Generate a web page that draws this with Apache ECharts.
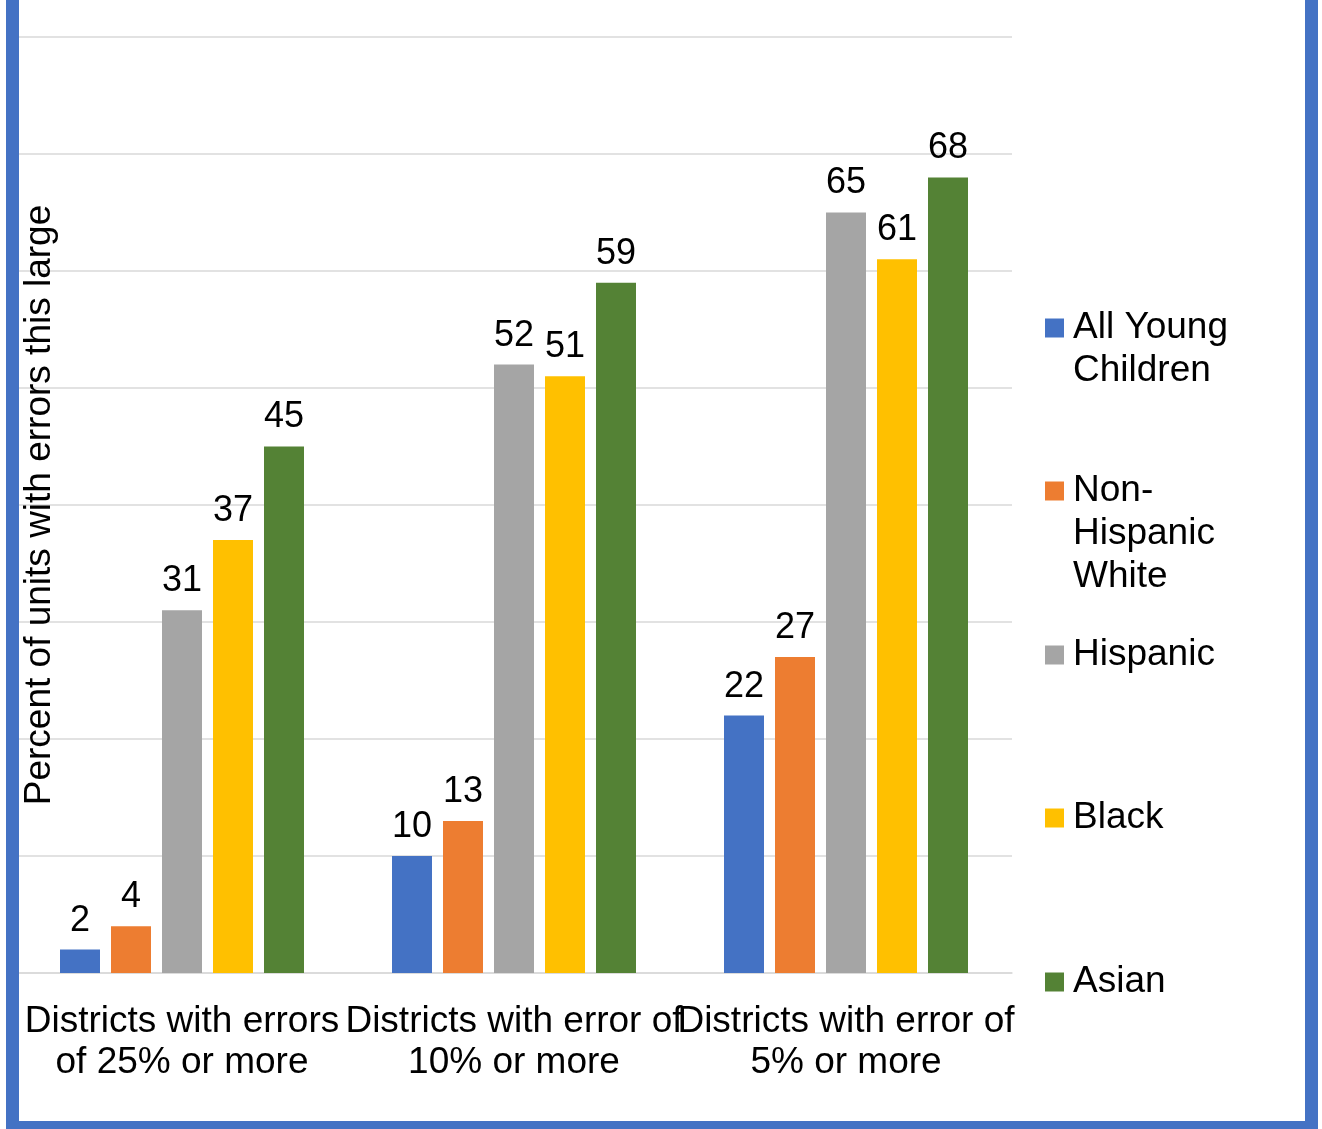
<!DOCTYPE html>
<html>
<head>
<meta charset="utf-8">
<title>Percent of units with errors this large</title>
<script src="https://cdn.jsdelivr.net/npm/echarts@6/dist/echarts.min.js"></script>
<style>
  html, body { margin: 0; padding: 0; background: #fff; }
  #chart { width: 1322px; height: 1129px; }
</style>
</head>
<body>
<div id="chart"></div>
<script>
// Error-size buckets shown along the x axis
const categories = [
  'Districts with errors\nof 25% or more',
  'Districts with error of\n10% or more',
  'Districts with error of\n5% or more'
];

// Group names and the wrapped text used for them in the legend
const seriesNames = ['All Young Children', 'Non-Hispanic White', 'Hispanic', 'Black', 'Asian'];
const legendLabels = ['All Young\nChildren', 'Non-\nHispanic\nWhite', 'Hispanic', 'Black', 'Asian'];

// Percent of units per group in each bucket
const allYoungChildren = [2, 10, 22];
const nonHispanicWhite = [4, 13, 27];
const hispanic = [31, 52, 65];
const black = [37, 51, 61];
const asian = [45, 59, 68];

const seriesValues = [allYoungChildren, nonHispanicWhite, hispanic, black, asian];
const colors = ['#4472C4', '#ED7D31', '#A5A5A5', '#FFC000', '#548235'];

const FONT = '"Liberation Sans", Arial, Helvetica, sans-serif';
const LINE_H = 43;

const chart = echarts.init(document.getElementById('chart'), null, { renderer: 'canvas' });

// One legend block per group. Blank lines are put in front of wrapped names so
// that the first text line stays level with the swatch (which is centred on the block).
const legendCenters = [328, 491, 655, 818, 982];
const legends = seriesNames.map((name, i) => {
  const lines = legendLabels[i].split('\n');
  const n = lines.length;
  const text = new Array(n - 1).fill('').concat(lines).join('\n');
  const boxH = (2 * n - 1) * LINE_H;
  return {
    orient: 'vertical',
    left: 1045,
    top: legendCenters[i] - boxH / 2,
    padding: 0,
    itemWidth: 19,
    itemHeight: 19,
    icon: 'rect',
    selectedMode: false,
    data: [name],
    formatter: () => text,
    textStyle: {
      fontFamily: FONT,
      fontSize: 37,
      color: '#000',
      lineHeight: LINE_H,
      padding: [0, 0, 0, 4]
    }
  };
});

const option = {
  backgroundColor: '#fff',
  animation: false,
  color: colors,
  textStyle: { fontFamily: FONT },
  grid: { left: 16, right: 310, top: 37, bottom: 156, containLabel: false },
  legend: legends,
  xAxis: {
    type: 'category',
    data: categories,
    axisLine: { show: true, lineStyle: { color: '#D9D9D9', width: 1.5 } },
    axisTick: { show: false },
    axisLabel: {
      interval: 0,
      fontFamily: FONT,
      fontSize: 37,
      color: '#000',
      lineHeight: 41,
      margin: 28
    }
  },
  yAxis: {
    type: 'value',
    min: 0,
    max: 80,
    interval: 10,
    name: 'Percent of units with errors this large',
    nameLocation: 'middle',
    nameRotate: 90,
    nameGap: -42,
    nameTextStyle: { fontFamily: FONT, fontSize: 37, color: '#000' },
    axisLine: { show: false },
    axisTick: { show: false },
    axisLabel: { show: false },
    splitLine: { show: true, lineStyle: { color: '#D9D9D9', width: 1.5 } }
  },
  series: seriesNames.map((name, i) => ({
    name: name,
    type: 'bar',
    data: seriesValues[i],
    barWidth: 40,
    barGap: '27.5%',
    itemStyle: { color: colors[i] },
    label: {
      show: true,
      position: 'top',
      distance: 11,
      fontFamily: FONT,
      fontSize: 36,
      color: '#000'
    }
  })),
  // Blue frame around the chart area
  graphic: [{
    type: 'rect',
    silent: true,
    z: 100,
    shape: { x: 12.5, y: -50, width: 1299, height: 1177.5 },
    style: { fill: 'none', stroke: '#4472C4', lineWidth: 13 }
  }]
};

chart.setOption(option);
</script>
</body>
</html>
